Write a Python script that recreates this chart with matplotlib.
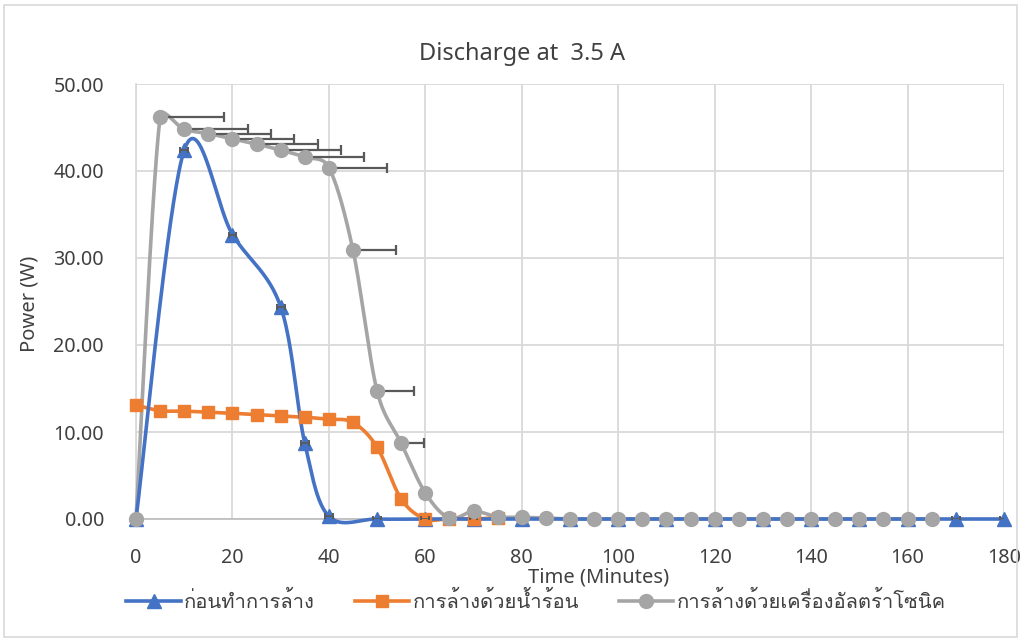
import numpy as np
import matplotlib
matplotlib.use("Agg")
import matplotlib.pyplot as plt
from matplotlib import font_manager as fm
from matplotlib.ft2font import FT2Font
from matplotlib.patches import Rectangle
from matplotlib.lines import Line2D

# ---------------- data ----------------
title = "Discharge at  3.5 A"
x_label = "Time (Minutes)"
y_label = "Power (W)"
series_names = ["ก่อนทำการล้าง", "การล้างด้วยน้ำร้อน", "การล้างด้วยเครื่องอัลตร้าโซนิค"]

t_before = [0, 10, 20, 30, 35, 40, 50, 60, 70, 80, 90, 100, 110, 120, 130, 140, 150, 160, 170, 180]
p_before = [0.0, 42.4, 32.7, 24.4, 8.7, 0.3, 0.0, 0.0, 0.0, 0.0, 0.0, 0.0, 0.0, 0.0, 0.0, 0.0, 0.0, 0.0, 0.0, 0.0]
err_before = [0.0, 0.8, 0.8, 0.8, 0.8, 0.8, 0.8, 0.8, 0.8, 0.8, 0.8, 0.8, 0.8, 0.8, 0.8, 0.8, 0.8, 0.8, 0.8, 0.8]

t_hot = [0, 5, 10, 15, 20, 25, 30, 35, 40, 45, 50, 55, 60, 65, 70, 75]
p_hot = [13.1, 12.45, 12.4, 12.26, 12.15, 12.0, 11.85, 11.7, 11.46, 11.1, 8.25, 2.3, 0.0, 0.05, 0.0, 0.15]

t_ultra = [0, 5, 10, 15, 20, 25, 30, 35, 40, 45, 50, 55, 60, 65, 70, 75, 80, 85, 90, 95,
           100, 105, 110, 115, 120, 125, 130, 135, 140, 145, 150, 155, 160, 165]
p_ultra = [0.0, 46.2, 44.8, 44.3, 43.7, 43.1, 42.4, 41.6, 40.4, 30.9, 14.7, 8.7, 3.0, 0.1, 0.9, 0.25, 0.2, 0.1,
           0.0, 0.0, 0.0, 0.0, 0.0, 0.0, 0.0, 0.0, 0.0, 0.0, 0.0, 0.0, 0.0, 0.0, 0.0, 0.0]
err_ultra = [0.0, 13.3, 13.2, 13.0, 12.8, 12.7, 12.5, 12.3, 12.0, 8.9, 7.7, 4.7, 0, 0, 0, 0, 0, 0,
             0, 0, 0, 0, 0, 0, 0, 0, 0, 0, 0, 0, 0, 0, 0, 0]

x_ticks = [0, 20, 40, 60, 80, 100, 120, 140, 160, 180]
y_ticks = [0, 10, 20, 30, 40, 50]

colors = ["#4472C4", "#ED7D31", "#A5A5A5"]
grid_color = "#D9D9D9"
text_color = "#404040"
err_color = "#595959"

# ---------------- fonts ----------------
def find_thai_font():
    seen = set()
    for f in fm.fontManager.ttflist:
        if f.fname in seen:
            continue
        seen.add(f.fname)
        try:
            cm = FT2Font(f.fname).get_charmap()
        except Exception:
            continue
        if 0x0E01 in cm and 0x0E49 in cm and 0x0E33 in cm:
            return f.name
    return None

thai = find_thai_font()
base_font = "Noto Sans"
fam = [base_font, "DejaVu Sans"]
legend_fam = ([thai] if thai else []) + fam
plt.rcParams["font.family"] = fam

# ---------------- figure ----------------
W, H = 1022, 641
fig = plt.figure(figsize=(W / 100, H / 100), dpi=100)
fig.patches.append(Rectangle((4 / W, 4 / H), 1 - 9 / W, 1 - 9 / H, transform=fig.transFigure,
                             fill=False, edgecolor=grid_color, linewidth=1.2))

L, R, T, B = 136, 1004, 84, 519
ax = fig.add_axes([L / W, 1 - B / H, (R - L) / W, (B - T) / H])
ax.set_xlim(0, 180)
ax.set_ylim(0, 50)
ax.set_xticks(x_ticks)
ax.set_yticks(y_ticks)
ax.set_yticklabels([f"{v:.2f}" for v in y_ticks])
ax.tick_params(length=0, labelsize=14.2, colors=text_color)
ax.tick_params(axis="y", pad=23)
ax.tick_params(axis="x", pad=21)
ax.grid(True, color=grid_color, linewidth=1.3)
ax.set_axisbelow(True)
for s in ["top", "right"]:
    ax.spines[s].set_visible(False)
ax.spines["left"].set_color(grid_color)
ax.spines["left"].set_linewidth(1.3)
ax.spines["bottom"].set_color("#BFBFBF")
ax.spines["bottom"].set_linewidth(1.3)


def smooth(xs, ys, n=40):
    """Excel-like smoothed line (Catmull-Rom Bezier, clamped), computed in display space."""
    pts = ax.transData.transform(np.column_stack([xs, ys]))
    m = len(pts)
    chords = []
    for i in range(m):
        chords.append(pts[min(i + 1, m - 1)] - pts[max(i - 1, 0)])
    out = [pts[0]]
    tt = np.linspace(0, 1, n)[1:]

    def ctrl(i, seg):
        c = chords[i]
        ln = np.hypot(*c)
        if ln == 0:
            return np.zeros(2)
        L = min(ln / 6.0, 0.5 * seg)
        return c / ln * L

    for i in range(m - 1):
        p0, p3 = pts[i], pts[i + 1]
        seg = np.hypot(*(p3 - p0))
        p1 = p0 + ctrl(i, seg)
        p2 = p3 - ctrl(i + 1, seg)
        for t in tt:
            out.append((1 - t) ** 3 * p0 + 3 * (1 - t) ** 2 * t * p1 + 3 * (1 - t) * t ** 2 * p2 + t ** 3 * p3)
    out = np.array(out)
    d = ax.transData.inverted().transform(out)
    return d[:, 0], d[:, 1]


lw = 2.6
sx, sy = smooth(t_ultra, p_ultra)
ax.plot(sx, sy, color=colors[2], lw=lw, zorder=3, clip_on=False, solid_capstyle="round")
sx, sy = smooth(t_hot, p_hot)
ax.plot(sx, sy, color=colors[1], lw=lw, zorder=3, clip_on=False)
sx, sy = smooth(t_before, p_before)
ax.plot(sx, sy, color=colors[0], lw=lw, zorder=3, clip_on=False)

# error bars (gray, plus direction)
eu = np.array(err_ultra)
m = eu > 0
ax.errorbar(np.array(t_ultra)[m], np.array(p_ultra)[m], xerr=[np.zeros(m.sum()), eu[m]],
            fmt="none", ecolor=err_color, elinewidth=1.6, capsize=3.6, capthick=1.6, zorder=4)

# markers
ax.plot(t_before, p_before, ls="none", marker="^", ms=10, color=colors[0], zorder=5, clip_on=False)
ax.plot(t_hot, p_hot, ls="none", marker="s", ms=9, color=colors[1], zorder=5, clip_on=False)
ax.plot(t_ultra, p_ultra, ls="none", marker="o", ms=10, color=colors[2], zorder=6, clip_on=False)

eb = np.array(err_before)
mb = eb > 0
ax.errorbar(np.array(t_before)[mb], np.array(p_before)[mb], xerr=eb[mb],
            fmt="none", ecolor=err_color, elinewidth=1.2, capsize=2.5, capthick=1.4, zorder=5.5)

# text
fig.text(522 / W, 1 - 54 / H, title, ha="center", va="center", fontsize=17, color=text_color)
fig.text(30 / W, 1 - 304 / H, y_label, ha="center", va="center", rotation=90, fontsize=14.5, color=text_color)
fig.text(599 / W, 1 - 578 / H, x_label, ha="center", va="center", fontsize=14.5, color=text_color)

handles = [
    Line2D([], [], color=colors[0], lw=lw, marker="^", ms=10),
    Line2D([], [], color=colors[1], lw=lw, marker="s", ms=9),
    Line2D([], [], color=colors[2], lw=lw, marker="o", ms=10),
]
leg = fig.legend(handles, series_names, loc="center", bbox_to_anchor=(536 / W, 1 - 601 / H), ncol=3,
                 frameon=False, handlelength=2.7, handletextpad=0.15, columnspacing=2.0,
                 prop={"family": legend_fam, "size": 14.5})
for txt in leg.get_texts():
    txt.set_color(text_color)

fig.savefig("out.png", dpi=100)
